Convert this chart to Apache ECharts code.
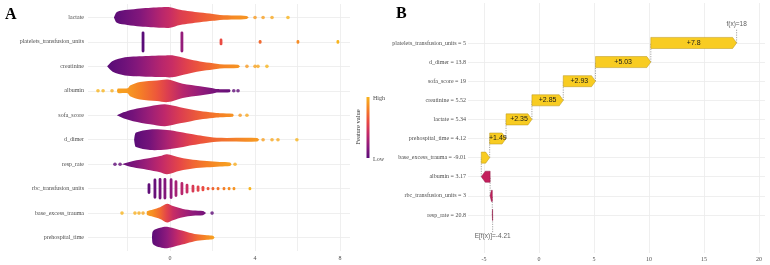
<!DOCTYPE html>
<html>
<head>
<meta charset="utf-8">
<script src="https://cdn.jsdelivr.net/npm/echarts@6/dist/echarts.min.js"></script>
<style>
html, body { margin: 0; padding: 0; background: #fff; }
#main { width: 770px; height: 265px; }
</style>
</head>
<body>
<div id="main"></div>
<script>
// ---- panel A: SHAP beeswarm (rows top -> bottom) ----
var featureNames = ['lactate', 'platelets_transfusion_units', 'creatinine', 'albumin', 'sofa_score',
                    'd_dimer', 'resp_rate', 'rbc_transfusion_units', 'base_excess_trauma', 'prehospital_time'];

// swarm outline: [shap value, spread (rows), feature value 0..1]
var lactateSwarm = [[-2.64,0,0.02],[-2.5,0.22,0.02],[-2.0,0.31,0.08],[-1.4,0.37,0.15],[-0.9,0.4,0.25],[-0.4,0.42,0.35],
                    [0.0,0.42,0.42],[0.47,0.31,0.52],[0.94,0.25,0.58],[1.41,0.2,0.65],[2.02,0.14,0.72],[2.35,0.1,0.76],
                    [3.06,0.08,0.85],[3.6,0.06,0.88],[3.7,0,0.88]];
var creatinineSwarm = [[-2.96,0,0],[-2.7,0.22,0.02],[-2.12,0.37,0.08],[-1.6,0.4,0.15],[-1.0,0.42,0.25],[-0.4,0.44,0.35],
                       [0.1,0.45,0.42],[0.8,0.31,0.55],[1.41,0.2,0.65],[2.02,0.13,0.74],[2.35,0.09,0.8],[3.2,0.07,0.88],[3.3,0,0.9]];
var albuminSwarm = [[-2.5,0,0.95],[-2.45,0.09,0.93],[-2.0,0.1,0.9],[-1.88,0.22,0.88],[-1.41,0.36,0.8],[-0.62,0.42,0.65],
                    [-0.1,0.46,0.52],[0.6,0.29,0.35],[1.41,0.19,0.22],[2.02,0.11,0.12],[2.2,0.07,0.1],[2.8,0.06,0.05],[2.85,0,0.05]];
var sofaSwarm = [[-2.5,0,0.02],[-2.2,0.12,0.05],[-1.74,0.24,0.1],[-0.94,0.37,0.25],[-0.24,0.45,0.38],[0.47,0.33,0.52],
                 [1.41,0.17,0.68],[2.02,0.11,0.76],[2.35,0.08,0.8],[2.95,0.06,0.87],[3.0,0,0.87]];
var ddimerSwarm = [[-1.69,0,0],[-1.66,0.18,0],[-1.6,0.3,0.01],[-0.94,0.42,0.1],[-0.14,0.4,0.3],[0.47,0.32,0.45],
                   [1.08,0.22,0.58],[1.55,0.15,0.65],[2.2,0.08,0.72],[4.1,0.07,0.9],[4.2,0,0.9]];
var respSwarm = [[-2.26,0,0.06],[-2.0,0.07,0.08],[-1.74,0.13,0.12],[-1.08,0.23,0.25],[-0.47,0.33,0.38],[-0.14,0.41,0.45],
                 [0.47,0.27,0.58],[1.08,0.18,0.7],[1.74,0.13,0.8],[2.35,0.09,0.88],[2.82,0.07,0.93],[2.9,0,0.95]];
var baseExcessSwarm = [[-1.1,0,0.93],[-1.08,0.08,0.92],[-0.8,0.15,0.85],[-0.47,0.24,0.72],[-0.14,0.38,0.55],
                       [0.14,0.29,0.42],[0.61,0.17,0.3],[1.08,0.11,0.2],[1.55,0.09,0.12],[1.7,0,0.08]];
var prehospSwarm = [[-0.85,0,0],[-0.8,0.27,0.02],[-0.47,0.4,0.1],[-0.14,0.44,0.2],[0.33,0.34,0.38],[0.8,0.23,0.55],
                    [1.27,0.13,0.72],[1.74,0.09,0.85],[2.02,0.07,0.92],[2.1,0,0.95]];

// stacked columns of points: [shap value, spread (rows), feature value]
var plateletStacks = [[-1.27,0.43,0],[0.56,0.43,0.22],[2.4,0.14,0.6],[4.24,0.08,0.72],[6.02,0.08,0.85],[7.9,0.08,1]];
var rbcStacks = [[-0.99,0.22,0.02],[-0.71,0.41,0.05],[-0.47,0.44,0.1],[-0.24,0.44,0.15],[0.05,0.42,0.2],[0.28,0.34,0.28],
                 [0.56,0.27,0.35],[0.8,0.2,0.42],[1.08,0.16,0.5],[1.32,0.13,0.55],[1.55,0.11,0.6],[1.79,0.07,0.65],
                 [2.02,0.07,0.7],[2.26,0.07,0.75],[2.54,0.07,0.8],[2.78,0.07,0.85],[3.01,0.07,0.88],[3.76,0.07,1]];

// single outlying points: [shap value, feature value]
var lactateDots = [[4.0,0.9],[4.38,0.92],[4.8,0.95],[5.55,1]];
var creatinineDots = [[3.62,0.9],[4.0,0.93],[4.14,0.95],[4.56,1]];
var albuminDots = [[-3.39,1],[-3.15,1],[-2.73,0.97],[3.0,0.03],[3.2,0.02]];
var sofaDots = [[3.3,0.9],[3.62,0.95]];
var ddimerDots = [[4.38,0.92],[4.8,0.95],[5.08,0.96],[5.97,1]];
var respDots = [[-2.59,0.02],[-2.35,0.05],[3.06,0.97]];
var baseExcessDots = [[-2.26,1],[-1.65,0.98],[-1.46,0.97],[-1.27,0.95],[1.98,0.02]];

// ---- panel B: waterfall (rows bottom -> top) ----
var wfLabels = ['resp_rate = 20.8', 'rbc_transfusion_units = 3', 'albumin = 3.17', 'base_excess_trauma = -9.01',
                'prehospital_time = 4.12', 'lactate = 5.34', 'creatinine = 5.52', 'sofa_score = 19',
                'd_dimer = 13.8', 'platelets_transfusion_units = 5'];
var wfShap = [-0.03, -0.2, -0.8, 0.76, 1.49, 2.35, 2.85, 2.93, 5.03, 7.8];
var baseValue = -4.21;

var palette = ['#5a0c78', '#8f1a7c', '#c42a68', '#ea4a42', '#f57f26', '#f8b41e'];
function cmap(v) { return echarts.color.lerp(Math.max(0, Math.min(1, v)), palette); }

function rowOf(name) { return 10 - featureNames.indexOf(name); }

var swarmList = [
  { row: rowOf('lactate'), pts: lactateSwarm },
  { row: rowOf('creatinine'), pts: creatinineSwarm },
  { row: rowOf('albumin'), pts: albuminSwarm },
  { row: rowOf('sofa_score'), pts: sofaSwarm },
  { row: rowOf('d_dimer'), pts: ddimerSwarm },
  { row: rowOf('resp_rate'), pts: respSwarm },
  { row: rowOf('base_excess_trauma'), pts: baseExcessSwarm },
  { row: rowOf('prehospital_time'), pts: prehospSwarm }
];

var stackData = [];
plateletStacks.forEach(function (s) { stackData.push([s[0], rowOf('platelets_transfusion_units'), s[1], s[2]]); });
rbcStacks.forEach(function (s) { stackData.push([s[0], rowOf('rbc_transfusion_units'), s[1], s[2]]); });

var dotData = [];
[['lactate', lactateDots], ['creatinine', creatinineDots], ['albumin', albuminDots], ['sofa_score', sofaDots],
 ['d_dimer', ddimerDots], ['resp_rate', respDots], ['base_excess_trauma', baseExcessDots]].forEach(function (d) {
  d[1].forEach(function (p) { dotData.push([p[0], rowOf(d[0]), p[1]]); });
});

// waterfall segments
var wfData = [], wfLinks = [];
var cum = baseValue;
wfLinks.push([baseValue, 0.1, 1]);
for (var i = 0; i < wfShap.length; i++) {
  var next = cum + wfShap[i];
  wfData.push([i + 1, cum, next, wfShap[i]]);
  wfLinks.push([next, i + 1, i < wfShap.length - 1 ? i + 2 : 10.72]);
  cum = next;
}
var fxValue = cum;

var serif = 'Liberation Serif';
var gridColor = '#ebebeb';

var dom = document.getElementById('main');
var myChart = echarts.init(dom, null, { renderer: 'canvas' });

function renderSwarm(params, api) {
  var s = swarmList[api.value(0)];
  var top = [], bot = [];
  for (var k = 0; k < s.pts.length; k++) {
    top.push(api.coord([s.pts[k][0], s.row + s.pts[k][1]]));
    bot.unshift(api.coord([s.pts[k][0], s.row - s.pts[k][1]]));
  }
  var x0 = top[0][0], x1 = top[top.length - 1][0];
  var stops = s.pts.map(function (p, k) {
    return { offset: (top[k][0] - x0) / (x1 - x0), color: cmap(p[2]) };
  });
  return {
    type: 'polygon',
    shape: { points: top.concat(bot), smooth: 0.3 },
    style: { fill: new echarts.graphic.LinearGradient(x0, 0, x1, 0, stops, true) }
  };
}

function renderStack(params, api) {
  var p = api.coord([api.value(0), api.value(1) + api.value(2)]);
  var q = api.coord([api.value(0), api.value(1) - api.value(2)]);
  var h = Math.max(3, q[1] - p[1]);
  return {
    type: 'rect',
    shape: { x: p[0] - 1.4, y: (p[1] + q[1]) / 2 - h / 2, width: 2.8, height: h, r: 1.4 },
    style: { fill: cmap(api.value(3)) }
  };
}

function renderArrow(params, api) {
  var row = api.value(0), v = api.value(3);
  var p0 = api.coord([api.value(1), row]), p1 = api.coord([api.value(2), row]);
  var hh = api.size([0, 0.58])[1] / 2;
  var dir = v >= 0 ? 1 : -1;
  var len = Math.abs(p1[0] - p0[0]);
  var head = Math.min(4, len * 0.6);
  var xs = p0[0], xe = p1[0], yc = p0[1];
  var pts = [[xs, yc - hh], [xe - dir * head, yc - hh], [xe, yc], [xe - dir * head, yc + hh], [xs, yc + hh]];
  var children = [{
    type: 'polygon',
    shape: { points: pts },
    style: { fill: v >= 0 ? '#f8cc22' : '#c41f5c', stroke: v >= 0 ? '#b8951c' : '#8e1845', lineWidth: 0.5 }
  }];
  if (Math.abs(v) >= 1) {
    children.push({
      type: 'text',
      style: {
        text: '+' + v, x: (xs + xe) / 2, y: yc, align: 'center', verticalAlign: 'middle',
        fill: '#1a1a1a', font: '7px "Liberation Sans"'
      }
    });
  }
  return { type: 'group', children: children };
}

function renderLink(params, api) {
  var a = api.coord([api.value(0), api.value(1)]);
  var b = api.coord([api.value(0), api.value(2)]);
  return {
    type: 'line',
    shape: { x1: a[0], y1: a[1], x2: b[0], y2: b[1] },
    style: { stroke: '#666', lineWidth: 0.6, lineDash: [1.2, 1.2] }
  };
}

var option = {
  animation: false,
  backgroundColor: '#fff',
  grid: [
    { left: 88, top: 4, width: 262, height: 247, outerBoundsMode: 'none' },
    { left: 468, top: 3, width: 297, height: 250, outerBoundsMode: 'none' }
  ],
  xAxis: [
    {
      type: 'value', gridIndex: 0, min: -3.86, max: 8.47,
      axisLine: { show: false },
      axisTick: { show: false, customValues: [-2, 0, 2, 4, 6, 8] },
      axisLabel: { customValues: [0, 4, 8], fontFamily: serif, fontSize: 6, color: '#4d4d4d', margin: 4 },
      splitLine: { show: true, lineStyle: { color: gridColor, width: 0.8 } }
    },
    {
      type: 'value', gridIndex: 1, min: -6.45, max: 20.55,
      axisLine: { show: false },
      axisTick: { show: false, customValues: [-5, 0, 5, 10, 15, 20] },
      axisLabel: { customValues: [-5, 0, 5, 10, 15, 20], fontFamily: serif, fontSize: 6, color: '#4d4d4d', margin: 3 },
      splitLine: { show: true, lineStyle: { color: gridColor, width: 0.8 } }
    }
  ],
  yAxis: [
    {
      type: 'value', gridIndex: 0, min: 0.45, max: 10.55,
      axisLine: { show: false },
      axisTick: { show: false, customValues: [1, 2, 3, 4, 5, 6, 7, 8, 9, 10] },
      axisLabel: {
        customValues: [1, 2, 3, 4, 5, 6, 7, 8, 9, 10], fontFamily: serif, fontSize: 6, color: '#4d4d4d', margin: 4,
        formatter: function (v) { return featureNames[10 - v]; }
      },
      splitLine: { show: true, lineStyle: { color: gridColor, width: 0.8 } }
    },
    {
      type: 'value', gridIndex: 1, min: -0.99, max: 12.09,
      axisLine: { show: false },
      axisTick: { show: false, customValues: [1, 2, 3, 4, 5, 6, 7, 8, 9, 10] },
      axisLabel: {
        customValues: [1, 2, 3, 4, 5, 6, 7, 8, 9, 10], fontFamily: serif, fontSize: 6, color: '#4d4d4d', margin: 2,
        formatter: function (v) { return wfLabels[v - 1]; }
      },
      splitLine: { show: true, lineStyle: { color: gridColor, width: 0.8 } }
    }
  ],
  series: [
    {
      type: 'custom', xAxisIndex: 0, yAxisIndex: 0,
      data: swarmList.map(function (s, k) { return [k, s.row]; }),
      encode: { x: -1, y: 1 },
      renderItem: renderSwarm, silent: true
    },
    {
      type: 'custom', xAxisIndex: 0, yAxisIndex: 0,
      data: stackData, encode: { x: 0, y: 1 },
      renderItem: renderStack, silent: true
    },
    {
      type: 'scatter', xAxisIndex: 0, yAxisIndex: 0,
      data: dotData, symbolSize: 3.6, silent: true,
      itemStyle: { color: function (p) { return cmap(p.value[2]); } }
    },
    {
      type: 'custom', xAxisIndex: 1, yAxisIndex: 1,
      data: wfLinks, encode: { x: 0, y: [1, 2] },
      renderItem: renderLink, silent: true, z: 1
    },
    {
      type: 'custom', xAxisIndex: 1, yAxisIndex: 1,
      data: wfData, encode: { x: [1, 2], y: 0 },
      renderItem: renderArrow, silent: true, z: 3
    },
    {
      type: 'scatter', xAxisIndex: 1, yAxisIndex: 1, symbolSize: 0, silent: true,
      data: [[baseValue, -0.1, 'E[f(x)]=' + baseValue], [fxValue, 11.0, 'f(x)=' + Math.round(fxValue)]],
      label: {
        show: true, position: 'inside', color: '#333', fontSize: 6.5, fontFamily: 'Liberation Sans',
        formatter: function (p) { return p.value[2]; }
      }
    }
  ],
  graphic: [
    { type: 'text', left: 5, top: 7, style: { text: 'A', font: 'bold 16px "Liberation Serif"', fill: '#000' } },
    { type: 'text', left: 396, top: 6, style: { text: 'B', font: 'bold 16px "Liberation Serif"', fill: '#000' } },
    {
      type: 'rect', shape: { x: 366.5, y: 97, width: 3, height: 61 },
      style: {
        fill: new echarts.graphic.LinearGradient(0, 1, 0, 0, palette.map(function (c, k) {
          return { offset: k / (palette.length - 1), color: c };
        }))
      }
    },
    { type: 'text', x: 373, y: 98, style: { text: 'High', font: '6px "Liberation Serif"', fill: '#4d4d4d', verticalAlign: 'middle' } },
    { type: 'text', x: 373, y: 159, style: { text: 'Low', font: '6px "Liberation Serif"', fill: '#4d4d4d', verticalAlign: 'middle' } },
    {
      type: 'text', x: 358, y: 127, rotation: Math.PI / 2,
      style: { text: 'Feature value', font: '6.5px "Liberation Serif"', fill: '#333', align: 'center', verticalAlign: 'middle' }
    }
  ]
};

if (option && typeof option === 'object') {
  myChart.setOption(option, true);
}
</script>
</body>
</html>
